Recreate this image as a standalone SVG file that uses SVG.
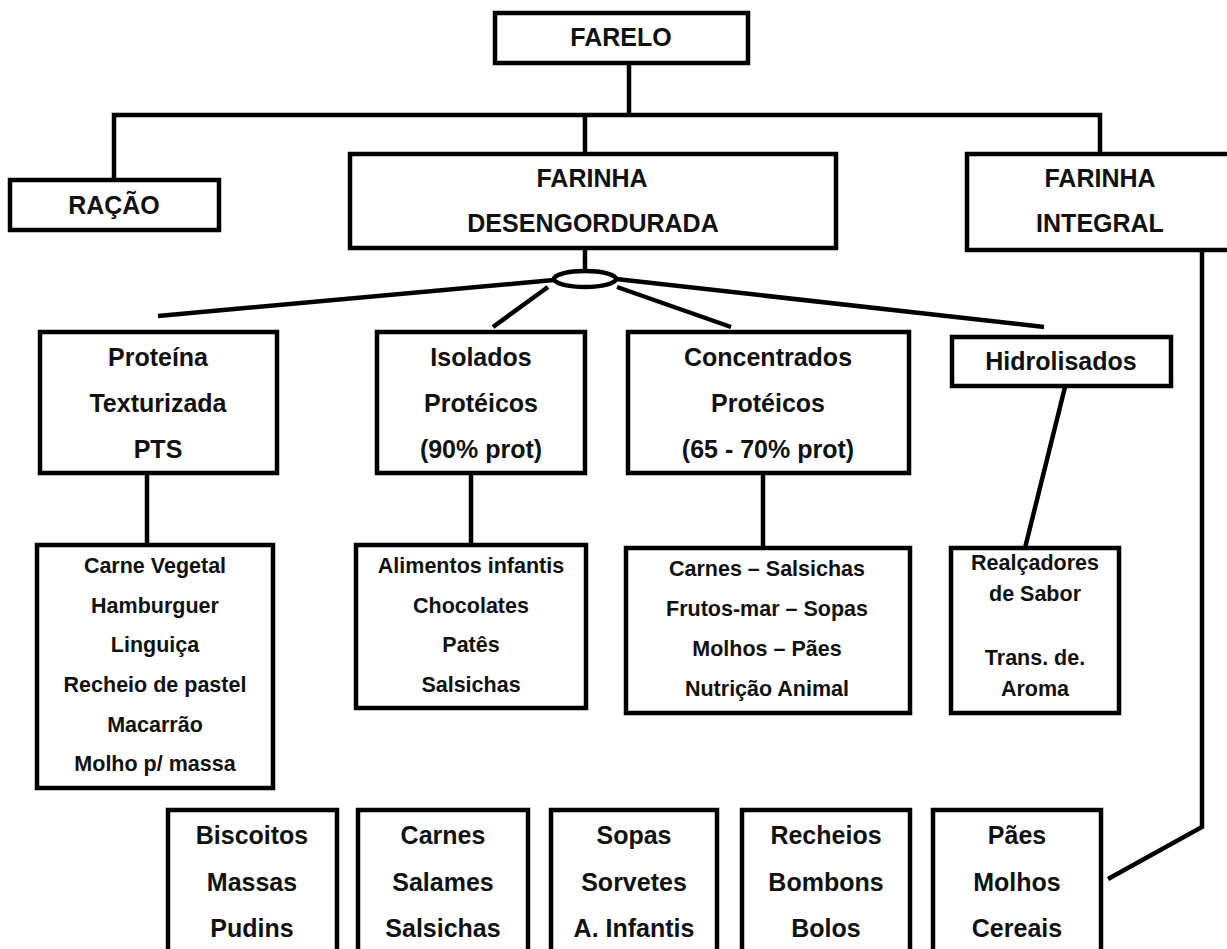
<svg xmlns="http://www.w3.org/2000/svg" width="1227" height="949" viewBox="0 0 1227 949">
<style>
rect{fill:#fff;stroke:#000;stroke-width:4.5}
.c line,.c polyline{stroke:#000;stroke-width:4.5;fill:none}
text{font-family:"Liberation Sans",Arial,sans-serif;font-weight:bold;text-anchor:middle;fill:#111}
.a{font-size:25px}
.b{font-size:21.5px}
</style>
<rect x="0" y="0" width="1227" height="949" style="stroke:none"/>
<g class="c" id="connectors">
<line x1="629" y1="63" x2="629" y2="115"/>
<polyline points="114,180 114,115 1100,115 1100,154"/>
<line x1="585" y1="115" x2="585" y2="154"/>
<line x1="585" y1="248" x2="585" y2="271"/>
<ellipse cx="585" cy="279" rx="31" ry="8" style="fill:#fff;stroke:#000;stroke-width:4.5"/>
<line x1="554" y1="280" x2="158" y2="316"/>
<line x1="548" y1="287" x2="493" y2="327"/>
<line x1="617" y1="287" x2="731" y2="327"/>
<line x1="616" y1="279" x2="1044" y2="327"/>
<line x1="147" y1="473" x2="147" y2="545"/>
<line x1="471" y1="473" x2="471" y2="545"/>
<line x1="763" y1="473" x2="763" y2="548"/>
<line x1="1065" y1="387" x2="1025" y2="548"/>
<polyline points="1202,250 1202,827 1108,879"/>
</g>
<g id="farelo"><rect x="495" y="13" width="253" height="50"/><text class="a" x="621" y="46">FARELO</text></g>
<g id="racao"><rect x="10" y="180" width="209" height="50"/><text class="a" x="114" y="214">RAÇÃO</text></g>
<g id="desengordurada"><rect x="350" y="154" width="486" height="94"/><text class="a" x="592" y="187">FARINHA</text><text class="a" x="593" y="232">DESENGORDURADA</text></g>
<g id="integral"><rect x="967" y="154" width="270" height="96"/><text class="a" x="1100" y="187">FARINHA</text><text class="a" x="1100" y="232">INTEGRAL</text></g>
<g id="pts"><rect x="40" y="332" width="237" height="141"/><text class="a" x="158" y="366">Proteína</text><text class="a" x="158" y="412">Texturizada</text><text class="a" x="158" y="458">PTS</text></g>
<g id="isolados"><rect x="377" y="332" width="208" height="141"/><text class="a" x="481" y="366">Isolados</text><text class="a" x="481" y="412">Protéicos</text><text class="a" x="481" y="458">(90% prot)</text></g>
<g id="concentrados"><rect x="628" y="332" width="281" height="141"/><text class="a" x="768" y="366">Concentrados</text><text class="a" x="768" y="412">Protéicos</text><text class="a" x="768" y="458">(65 - 70% prot)</text></g>
<g id="hidrolisados"><rect x="952" y="337" width="219" height="49"/><text class="a" x="1061" y="370">Hidrolisados</text></g>
<g id="pts-usos"><rect x="37" y="545" width="236" height="243"/>
<text class="b" x="155" y="573">Carne Vegetal</text><text class="b" x="155" y="613">Hamburguer</text><text class="b" x="155" y="652">Linguiça</text><text class="b" x="155" y="692">Recheio de pastel</text><text class="b" x="155" y="732">Macarrão</text><text class="b" x="155" y="771">Molho p/ massa</text></g>
<g id="isolados-usos"><rect x="356" y="545" width="230" height="163"/>
<text class="b" x="471" y="573">Alimentos infantis</text><text class="b" x="471" y="613">Chocolates</text><text class="b" x="471" y="652">Patês</text><text class="b" x="471" y="692">Salsichas</text></g>
<g id="concentrados-usos"><rect x="626" y="548" width="284" height="165"/>
<text class="b" x="767" y="576">Carnes – Salsichas</text><text class="b" x="767" y="616">Frutos-mar – Sopas</text><text class="b" x="767" y="656">Molhos – Pães</text><text class="b" x="767" y="696">Nutrição Animal</text></g>
<g id="hidrolisados-usos"><rect x="951" y="548" width="168" height="165"/>
<text class="b" x="1035" y="570">Realçadores</text><text class="b" x="1035" y="601">de Sabor</text><text class="b" x="1035" y="665">Trans. de.</text><text class="b" x="1035" y="696">Aroma</text></g>
<g id="b1"><rect x="168" y="810" width="169" height="160"/><text class="a" x="252" y="844">Biscoitos</text><text class="a" x="252" y="891">Massas</text><text class="a" x="252" y="937">Pudins</text></g>
<g id="b2"><rect x="358" y="810" width="170" height="160"/><text class="a" x="443" y="844">Carnes</text><text class="a" x="443" y="891">Salames</text><text class="a" x="443" y="937">Salsichas</text></g>
<g id="b3"><rect x="551" y="810" width="166" height="160"/><text class="a" x="634" y="844">Sopas</text><text class="a" x="634" y="891">Sorvetes</text><text class="a" x="634" y="937">A. Infantis</text></g>
<g id="b4"><rect x="742" y="810" width="168" height="160"/><text class="a" x="826" y="844">Recheios</text><text class="a" x="826" y="891">Bombons</text><text class="a" x="826" y="937">Bolos</text></g>
<g id="b5"><rect x="933" y="810" width="168" height="160"/><text class="a" x="1017" y="844">Pães</text><text class="a" x="1017" y="891">Molhos</text><text class="a" x="1017" y="937">Cereais</text></g>
</svg>
